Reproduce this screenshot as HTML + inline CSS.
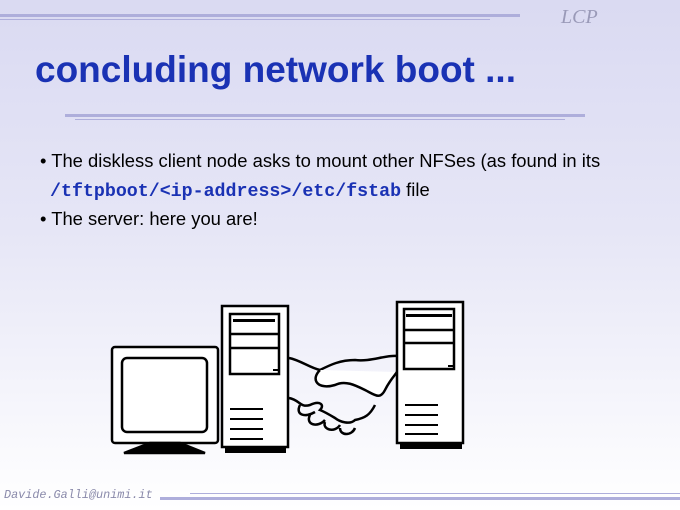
<!DOCTYPE html>
<html><head><style>
body{margin:0}
#p{position:relative;width:680px;height:510px;overflow:hidden;background:linear-gradient(#dadaf2 0%,#e6e6f6 45%,#ffffff 100%);font-family:"Liberation Sans",sans-serif}
.l{position:absolute;background:#aeaedb}
.t{position:absolute;white-space:nowrap}
</style></head><body><div id="p">
<div class="l" style="left:0;top:14px;width:520px;height:3px"></div>
<div class="l" style="left:0;top:19px;width:490px;height:1px"></div>
<div class="t" style="left:561px;top:6px;font:italic 20px 'Liberation Serif',serif;color:#9a9ab8">LCP</div>
<div class="t" style="left:35px;top:49px;font-weight:bold;font-size:37px;color:#1a32b4">concluding network boot ...</div>
<div class="l" style="left:65px;top:114px;width:520px;height:3px"></div>
<div class="l" style="left:75px;top:119px;width:490px;height:1px"></div>
<div class="t" style="left:40px;top:150px;font-size:18.4px;color:#000">• The diskless client node asks to mount other NFSes (as found in its</div>
<div class="t" style="left:50px;top:179px;font-size:18.4px;color:#000"><span style="font-family:'Liberation Mono',monospace;font-weight:bold;color:#1a32b4;font-size:18.3px">/tftpboot/&lt;ip-address&gt;/etc/fstab</span> file</div>
<div class="t" style="left:40px;top:208px;font-size:18.4px;color:#000">• The server: here you are!</div>
<svg style="position:absolute;left:0;top:0" width="680" height="510">
<g stroke="#000" fill="#fff" stroke-width="2.5">
<rect x="112" y="347" width="106" height="96" rx="3"/>
<rect x="122" y="358" width="85" height="74" rx="5"/>
<polygon points="124,453 205,453 180,443 150,443" fill="#000"/>
<rect x="222" y="306" width="66" height="141"/>
<rect x="230" y="314" width="49" height="60"/>
<line x1="230" y1="334" x2="279" y2="334"/><line x1="230" y1="348" x2="279" y2="348"/>
<rect x="397" y="302" width="66" height="141"/>
<rect x="404" y="309" width="50" height="60"/>
<line x1="404" y1="330" x2="454" y2="330"/><line x1="404" y1="343" x2="454" y2="343"/>
<path d="M289,358 C300,360 310,368 320,370 C330,365 340,360 355,360 C370,362 385,355 397,356" fill="none"/>
<path d="M320,370 C310,380 318,390 335,385 C345,380 355,385 365,390 C375,395 380,400 385,390 C390,380 395,375 397,372" fill="#fff"/>
<path d="M289,398 C300,400 300,408 310,405 C320,400 325,405 320,410 C325,412 330,415 335,418 C340,422 350,425 355,420 C365,418 370,415 375,405" fill="none"/>
<path d="M300,405 C295,415 305,418 315,412 M310,415 C305,425 318,428 325,420 M325,422 C322,430 335,433 340,425 M340,428 C340,436 352,436 355,428" fill="none"/>
</g>
<g fill="#000">
<rect x="233" y="319" width="42" height="3"/><rect x="406" y="314" width="46" height="3"/>
<rect x="273" y="369" width="5" height="2"/><rect x="448" y="365" width="5" height="2"/>
<rect x="230" y="408" width="33" height="2"/><rect x="230" y="418" width="33" height="2"/><rect x="230" y="428" width="33" height="2"/><rect x="230" y="438" width="33" height="2"/>
<rect x="405" y="404" width="33" height="2"/><rect x="405" y="414" width="33" height="2"/><rect x="405" y="424" width="33" height="2"/><rect x="405" y="433" width="33" height="2"/>
<rect x="225" y="447" width="61" height="6"/><rect x="400" y="443" width="62" height="6"/>
</g>
</svg>
<div class="t" style="left:4px;top:488px;font:italic 11.8px 'Liberation Mono',monospace;color:#8a8aaa">Davide.Galli@unimi.it</div>
<div class="l" style="left:160px;top:497px;width:520px;height:3px"></div>
<div class="l" style="left:190px;top:493px;width:490px;height:1px"></div>
</div></body></html>
